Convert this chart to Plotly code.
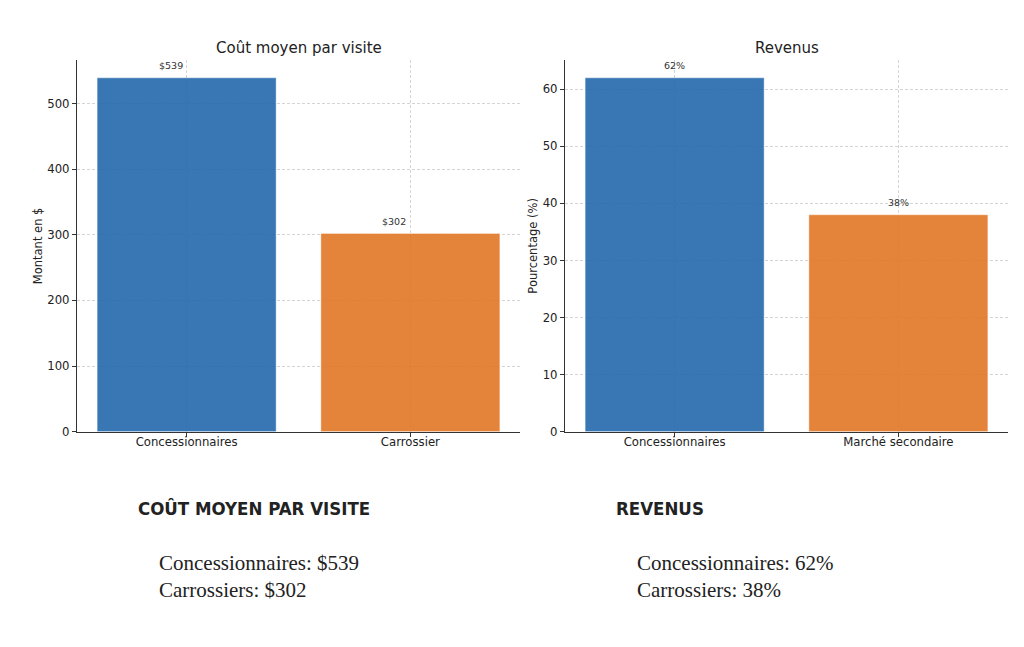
import plotly.graph_objects as go

# Data
cost_categories = ["Concessionnaires", "Carrossier"]
cost_values = [539, 302]
cost_labels = ["$539", "$302"]

rev_categories = ["Concessionnaires", "Marché secondaire"]
rev_values = [62, 38]
rev_labels = ["62%", "38%"]

cost_title = "Coût moyen par visite"
rev_title = "Revenus"
cost_ytitle = "Montant en $"
rev_ytitle = "Pourcentage (%)"

cost_heading = "COÛT MOYEN PAR VISITE"
cost_lines = ["Concessionnaires: $539", "Carrossiers: $302"]
rev_heading = "REVENUS"
rev_lines = ["Concessionnaires: 62%", "Carrossiers: 38%"]

bar_colors = ["#2469ac", "#e27726"]

W, H = 1024, 647
RENDER_H = 655
def px_x(v):
    return v / W
def px_y(v):
    return 1 - v / H

fig = go.Figure()
fig.add_trace(go.Bar(x=cost_categories, y=cost_values,
                     marker=dict(color=bar_colors, opacity=0.9,
                                 line=dict(width=0.8, color="rgba(255,255,255,0.5)")),
                     xaxis="x", yaxis="y", showlegend=False, hoverinfo="skip"))
fig.add_trace(go.Bar(x=rev_categories, y=rev_values,
                     marker=dict(color=bar_colors, opacity=0.9,
                                 line=dict(width=0.8, color="rgba(255,255,255,0.5)")),
                     xaxis="x2", yaxis="y2", showlegend=False, hoverinfo="skip"))

axis_common = dict(showline=True, linecolor="#333", linewidth=1.2, ticks="outside",
                   ticklen=4, tickcolor="#333", showgrid=True, gridcolor="#d4d4d4",
                   griddash="3px,2px", gridwidth=0.8, zeroline=False,
                   tickfont=dict(size=11.7, color="#222", family="DejaVu Sans"))

fig.update_layout(
    width=W, height=RENDER_H, margin=dict(l=0, r=0, t=0, b=0),
    paper_bgcolor="white", plot_bgcolor="white",
    font=dict(family="DejaVu Sans", color="#222"),
    bargap=0.2,
    xaxis=dict(domain=[px_x(77), px_x(520)], anchor="y", range=[-0.49, 1.49],
               ticklabelstandoff=-5, **axis_common),
    yaxis=dict(domain=[px_y(431), px_y(60)], anchor="x", range=[0, max(cost_values) * 1.05],
               dtick=100, title=dict(text=cost_ytitle, font=dict(size=11.5), standoff=2),
               **axis_common),
    xaxis2=dict(domain=[px_x(565), px_x(1008)], anchor="y2", range=[-0.49, 1.49],
                ticklabelstandoff=-5, **axis_common),
    yaxis2=dict(domain=[px_y(431), px_y(60)], anchor="x2", range=[0, max(rev_values) * 1.05],
                dtick=10, title=dict(text=rev_ytitle, font=dict(size=11.5), standoff=2),
                **axis_common),
)

annotations = [
    dict(text=cost_title, x=(px_x(77) + px_x(520)) / 2, y=px_y(48), xref="paper", yref="paper",
         xanchor="center", yanchor="middle", showarrow=False,
         font=dict(size=15, color="#222", family="DejaVu Sans")),
    dict(text=rev_title, x=(px_x(565) + px_x(1008)) / 2, y=px_y(48), xref="paper", yref="paper",
         xanchor="center", yanchor="middle", showarrow=False,
         font=dict(size=15, color="#222", family="DejaVu Sans")),
]

label_font = dict(size=9.5, color="#333", family="DejaVu Sans")
for cat, val, lab in zip(cost_categories, cost_values, cost_labels):
    annotations.append(dict(text=lab, x=cat, y=val, xref="x", yref="y", xanchor="center",
                            yanchor="middle", yshift=12, xshift=-16, showarrow=False,
                            font=label_font))
for cat, val, lab in zip(rev_categories, rev_values, rev_labels):
    annotations.append(dict(text=lab, x=cat, y=val, xref="x2", yref="y2", xanchor="center",
                            yanchor="middle", yshift=12, showarrow=False, font=label_font))

head_font = dict(size=18.5, color="#222",
                 family="DejaVu Sans Condensed, Liberation Sans Narrow, sans-serif")
body_font = dict(size=21, color="#222", family="Liberation Serif, Times New Roman, serif")

for heading, lines, hx, bx in [(cost_heading, cost_lines, 136, 157), (rev_heading, rev_lines, 614, 635)]:
    annotations.append(dict(text="<b>" + heading + "</b>", x=px_x(hx), y=px_y(508),
                            xref="paper", yref="paper", xanchor="left", yanchor="middle",
                            showarrow=False, font=head_font))
    for i, line in enumerate(lines):
        annotations.append(dict(text=line, x=px_x(bx), y=px_y(562 + 27 * i),
                                xref="paper", yref="paper", xanchor="left", yanchor="middle",
                                showarrow=False, font=body_font))

fig.update_layout(annotations=annotations)
fig.write_html("out.html", config={"displayModeBar": False},
               post_script="document.body.style.margin='0';document.body.style.overflow='hidden';")
